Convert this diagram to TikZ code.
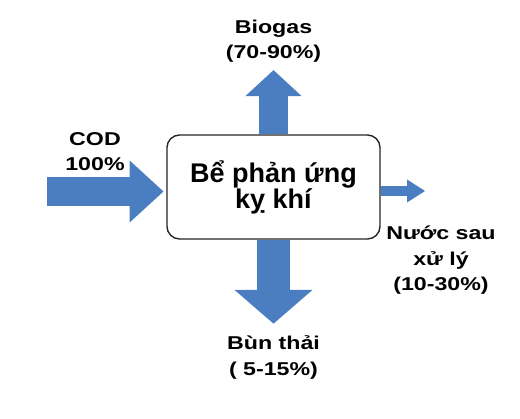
\documentclass[tikz,border=0pt]{standalone}
\usepackage{fontspec}
\setmainfont{Liberation Sans}
\usepackage{xcolor}
\definecolor{arrowblue}{HTML}{4A7EC1}
\definecolor{boxline}{HTML}{262626}
\usetikzlibrary{arrows.meta}

\begin{document}
\begin{tikzpicture}[x=0.025cm, y=-0.025cm,
  fatarrow/.style n args={3}{draw=arrowblue, line width=#1, -{Triangle[width=#2, length=#3, line width=0pt, fill=arrowblue]}},
  flowlabel/.style={font=\fontsize{13.2}{18.3}\selectfont\bfseries, align=center, inner sep=0pt, xscale=1.25}]
  \useasboundingbox (0,0) rectangle (520,419);

  % Reactor tank
  \node[draw=boxline, line width=1pt, rounded corners=9pt, fill=white,
        minimum width=5.325cm, minimum height=2.6cm, align=center,
        font=\fontsize{19.2}{18.5}\selectfont\bfseries] (tank) at (273.5,187) {Bể phản ứng\\kỵ khí};

  % Labels
  \node[flowlabel] (biogas) at (273.5,41.3) {Biogas\\(70-90\%)};
  \node[flowlabel] (cod) at (95,151.5) {COD\\100\%};
  \node[flowlabel] (water) at (441,260.3) {Nước sau\\xử lý\\(10-30\%)};
  \node[flowlabel] (sludge) at (273.5,357.6) {Bùn thải\\( 5-15\%)};

  % Flows
  \coordinate (codtail) at (47,191.5);
  \coordinate (outtip) at (425,191);
  \draw[fatarrow={20.5pt}{44pt}{24pt}, shorten >=2pt] (codtail) -- (tank.west |- codtail);
  \draw[fatarrow={20pt}{40pt}{18.5pt}, shorten <=0.5pt, shorten >=5pt] (tank.north) -- (biogas.south);
  \draw[fatarrow={23.5pt}{55.5pt}{24pt}, shorten <=0.5pt, shorten >=8.5pt] (tank.south) -- (sludge.north);
  \draw[fatarrow={7.8pt}{16.4pt}{12.8pt}, shorten <=0.5pt] (tank.east |- outtip) -- (outtip);
\end{tikzpicture}
\end{document}
